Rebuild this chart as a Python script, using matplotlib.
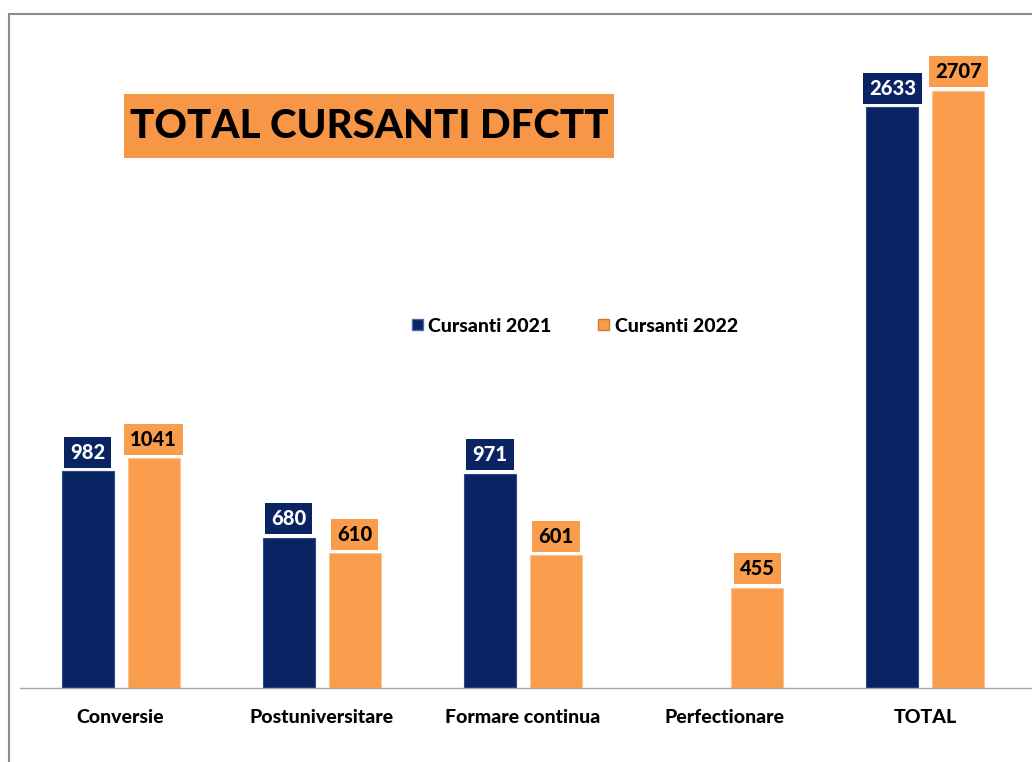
import numpy as np
import matplotlib
matplotlib.use("Agg")
import matplotlib.pyplot as plt
from matplotlib.lines import Line2D
from matplotlib.patches import Rectangle

categories = ["Conversie", "Postuniversitare", "Formare continua", "Perfectionare", "TOTAL"]
cursanti_2021 = [982, 680, 971, np.nan, 2633]
cursanti_2022 = [1041, 610, 601, 455, 2707]
series_names = ["Cursanti 2021", "Cursanti 2022"]

navy = "#0A2463"
orange = "#F99D4C"
title_orange = "#F79646"

plt.rcParams["font.family"] = ["Lato", "DejaVu Sans"]
wt = "black"

fig = plt.figure(figsize=(10.32, 7.62), dpi=100)
W, H = 1032, 762
ax = fig.add_axes([20 / W, 1 - 688 / H, 1 - 20 / W, (688 - 20) / H])

x = np.arange(len(categories))
off = 0.164
bw = 0.259
b1 = ax.bar(x - off, cursanti_2021, bw, color=navy, edgecolor="#2a4a8a", linewidth=0.8, zorder=2)
b2 = ax.bar(x + off, cursanti_2022, bw, color=orange, edgecolor="#fbc48f", linewidth=0.8, zorder=2)

for xs, vals, fc, tc in [(x - off, cursanti_2021, navy, "white"), (x + off, cursanti_2022, orange, "black")]:
    for xi, v in zip(xs, vals):
        if np.isnan(v):
            continue
        ax.annotate(f"{int(v)}", (xi, v), xytext=(0, 13.9), textcoords="offset points",
                    ha="center", va="center", fontsize=14.5, fontweight=wt, color=tc,
                    bbox=dict(boxstyle="square,pad=0.3", fc=fc, ec="none"), zorder=3)

ax.set_xlim(-0.5, 4.53)
ax.set_ylim(0, (688 - 20) / 0.2205)
for s in ["top", "right", "left"]:
    ax.spines[s].set_visible(False)
ax.spines["bottom"].set_color("#a6a6a6")
ax.spines["bottom"].set_linewidth(1.0)
ax.set_yticks([])
ax.set_xticks(x)
ax.set_xticklabels(categories, fontsize=14, fontweight=wt)
ax.tick_params(axis="x", length=0, pad=15)

handles = [Rectangle((0, 0), 1, 1, fc=navy, ec="#4a6aa8"),
           Rectangle((0, 0), 1, 1, fc=orange, ec="#d07a30")]
fig.legend(handles, series_names, loc="center", bbox_to_anchor=(575 / W, 1 - 326 / H),
           ncol=2, frameon=False, prop=dict(size=14, weight=wt),
           handlelength=0.55, handleheight=0.55, handletextpad=0.3, columnspacing=2.4)

# title with orange box
fig.add_artist(Rectangle((124 / W, 1 - 158 / H), 490 / W, 64 / H, transform=fig.transFigure,
                         fc=title_orange, ec="none"))
fig.text(369 / W, 1 - 127 / H, "TOTAL CURSANTI DFCTT", ha="center", va="center",
         fontsize=29, fontweight=wt, color="black")

# grey frame edges (top and left)
fig.add_artist(Line2D([9 / W, 1], [1 - 14 / H, 1 - 14 / H], color="#8c8c8c", lw=1.5))
fig.add_artist(Line2D([9 / W, 9 / W], [0, 1 - 14 / H], color="#8c8c8c", lw=1.5))

fig.savefig("out.png", dpi=100)
